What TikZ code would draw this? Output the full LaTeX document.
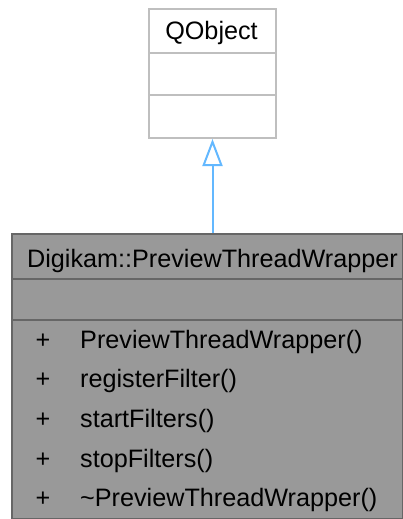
\documentclass[tikz,border=0pt]{standalone}
\usepackage{fontspec}
\setmainfont{Liberation Sans}
\usetikzlibrary{arrows.meta}
\definecolor{qborder}{HTML}{BFBFBF}
\definecolor{dborder}{HTML}{666666}
\definecolor{dfill}{HTML}{999999}
\definecolor{inhblue}{HTML}{63B8FF}
\begin{document}
\begin{tikzpicture}[x=1pt,y=-1pt,
  qbox/.style={draw=qborder, fill=white, line width=2pt, rectangle, inner sep=0pt, anchor=north west},
  dbox/.style={draw=dborder, fill=dfill, line width=2pt, rectangle, inner sep=0pt, anchor=north west},
  qsep/.style={draw=qborder, line width=2pt},
  dsep/.style={draw=dborder, line width=2pt},
  lbl/.style={inner sep=0pt, font=\fontsize{25.2}{30}\selectfont},
  inh/.style={draw=inhblue, line width=2pt, -{Triangle[open, length=27pt, width=20pt, fill=white]}}
]
\useasboundingbox (0,0) rectangle (403,519);
% QObject
\node[qbox, minimum width=127pt, minimum height=129pt] (qobj) at (148,8) {};
\draw[qsep] (148,53) -- (275,53);
\draw[qsep] (148,95) -- (275,95);
\node[lbl, anchor=base] (qname) at (211.5,39.5) {QObject};
% Digikam::PreviewThreadWrapper
\node[dbox, minimum width=391pt, minimum height=285pt] (dig) at (11,233) {};
\draw[dsep] (11,279) -- (402,279);
\draw[dsep] (11,320) -- (402,320);
\node[lbl, anchor=base] (dname) at (212.5,267) {Digikam::PreviewThreadWrapper};
\node[lbl, anchor=base] (p1) at (43,348.3) {+};
\node[lbl, anchor=base west] (m1) at (80,348.3) {PreviewThreadWrapper()};
\node[lbl, anchor=base] (p2) at (43,387.9) {+};
\node[lbl, anchor=base west] (m2) at (80,387.9) {registerFilter()};
\node[lbl, anchor=base] (p3) at (43,427.5) {+};
\node[lbl, anchor=base west] (m3) at (80,427.5) {startFilters()};
\node[lbl, anchor=base] (p4) at (43,467.1) {+};
\node[lbl, anchor=base west] (m4) at (80,467.1) {stopFilters()};
\node[lbl, anchor=base] (p5) at (43,506.7) {+};
\node[lbl, anchor=base west] (m5) at (80,506.7) {\char"007EPreviewThreadWrapper()};
% inheritance
\draw[inh] (dig.north -| qobj.south) -- (qobj.south);
\end{tikzpicture}
\end{document}
